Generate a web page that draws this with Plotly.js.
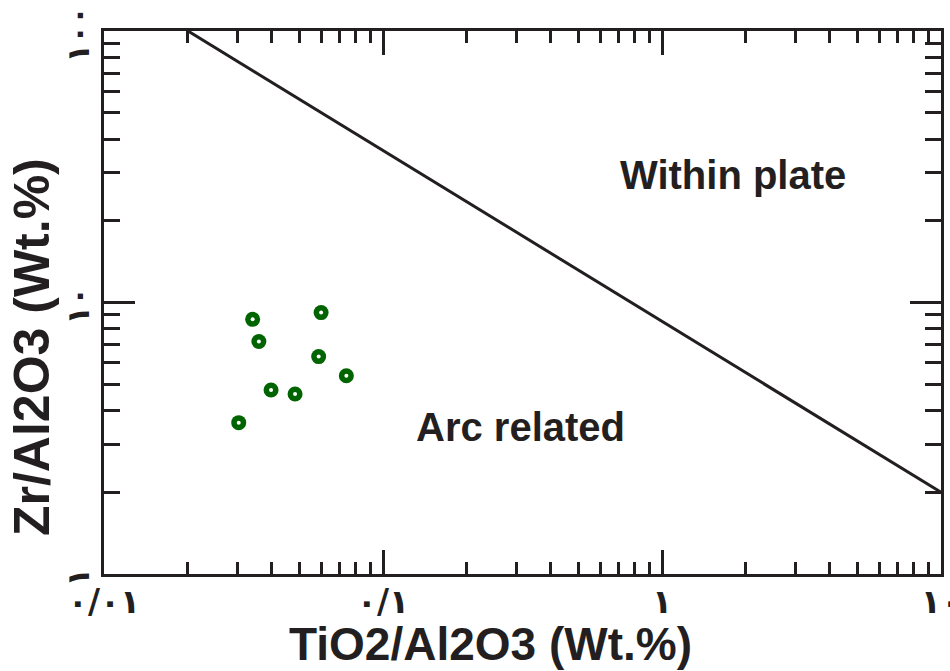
<!DOCTYPE html>
<html>
<head>
<meta charset="utf-8">
<script src="https://cdn.plot.ly/plotly-3.0.1.min.js"></script>
<style>html,body{margin:0;padding:0;background:#fff;}#chart{width:950px;height:671px;}</style>
</head>
<body>
<div id="chart"></div>
<script>
// Sample data (TiO2/Al2O3 vs Zr/Al2O3, Wt.%)
const tio2_al2o3 = [0.0341, 0.0600, 0.0359, 0.0588, 0.0739, 0.0397, 0.0484, 0.0304];
const zr_al2o3   = [8.67, 9.18, 7.18, 6.32, 5.37, 4.76, 4.60, 3.61];

// Discrimination boundary
const boundaryX = [0.02, 10];
const boundaryY = [100, 2];

// Tick values and labels (Arabic-Indic numerals)
const xTickVals = [0.01, 0.1, 1, 10];
const xTickText = ['٠/٠١', '٠/١', '١', '١٠'];
const yTickVals = [1, 10, 100];
const yTickText = ['١', '١٠', '١٠٠'];
const xMinorVals = [0.02,0.03,0.04,0.05,0.06,0.07,0.08,0.09,0.2,0.3,0.4,0.5,0.6,0.7,0.8,0.9,2,3,4,5,6,7,8,9];
const yMinorVals = [2,3,4,5,6,7,8,9,20,30,40,50,60,70,80,90];

const ink = '#231f20';
const green = '#006400';

const traces = [
  {x: boundaryX, y: boundaryY, mode: 'lines', line: {color: ink, width: 3}, hoverinfo: 'skip', showlegend: false},
  {x: tio2_al2o3, y: zr_al2o3, mode: 'markers', marker: {color: green, size: 15, line: {width: 0}}, showlegend: false},
  {x: tio2_al2o3, y: zr_al2o3, mode: 'markers', marker: {color: '#ffffff', size: 4, line: {width: 0}}, showlegend: false, hoverinfo: 'skip'}
];

const sans = 'Liberation Sans, Arial, sans-serif';

const layout = {
  width: 950, height: 671,
  margin: {l: 104, r: 9, t: 31, b: 97},
  paper_bgcolor: '#fff', plot_bgcolor: '#fff',
  xaxis: {
    type: 'log', range: [-2, 1],
    tickmode: 'array', tickvals: xTickVals, ticktext: xTickText,
    ticks: 'inside', ticklen: 24, tickwidth: 3, tickcolor: ink,
    minor: {tickmode: 'array', tickvals: xMinorVals, ticks: 'inside', ticklen: 12, tickwidth: 3, tickcolor: ink, showgrid: false},
    showline: true, linewidth: 3, linecolor: ink, mirror: 'ticks',
    showgrid: false, zeroline: false,
    ticklabeloverflow: 'allow',
    ticklabelstandoff: -4,
    tickfont: {family: 'DejaVu Sans', size: 33, color: ink, weight: 'bold'},
    title: {text: ''}
  },
  yaxis: {
    type: 'log', range: [0, 2],
    tickmode: 'array', tickvals: yTickVals, ticktext: yTickText,
    ticks: 'inside', ticklen: 31, tickwidth: 3, tickcolor: ink,
    minor: {tickmode: 'array', tickvals: yMinorVals, ticks: 'inside', ticklen: 16, tickwidth: 3, tickcolor: ink, showgrid: false},
    showline: true, linewidth: 3, linecolor: ink, mirror: 'ticks',
    showgrid: false, zeroline: false,
    ticklabeloverflow: 'allow',
    ticklabelshift: 8,
    tickangle: -90,
    tickfont: {family: 'DejaVu Sans', size: 31, color: ink, weight: 'bold'},
    title: {text: ''}
  },
  annotations: [
    {text: 'TiO2/Al2O3 (Wt.%)', xref: 'paper', yref: 'paper', x: 0.462, y: -0.128, xanchor: 'center', yanchor: 'middle', showarrow: false, font: {family: sans, size: 46, color: ink, weight: 'bold'}},
    {text: 'Zr/Al2O3 (Wt.%)', xref: 'paper', yref: 'paper', x: -0.086, y: 0.418, xanchor: 'center', yanchor: 'middle', textangle: -90, showarrow: false, font: {family: sans, size: 50, color: ink, weight: 'bold'}},
    {text: 'Within plate', x: 0.2545, y: 1.4687, xanchor: 'center', yanchor: 'middle', showarrow: false, font: {family: sans, size: 40, color: ink, weight: 'bold'}},
    {text: 'Arc related', x: -0.5054, y: 0.5409, xanchor: 'center', yanchor: 'middle', showarrow: false, font: {family: sans, size: 40, color: ink, weight: 'bold'}}
  ]
};

Plotly.newPlot('chart', traces, layout, {displayModeBar: false, staticPlot: true});
</script>
</body>
</html>
